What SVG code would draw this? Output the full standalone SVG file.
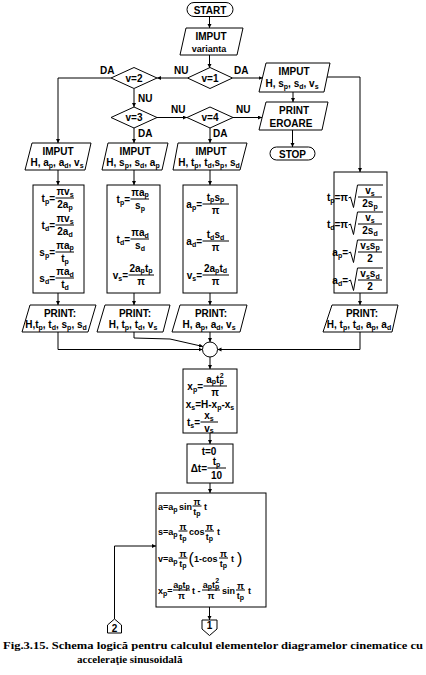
<svg xmlns="http://www.w3.org/2000/svg" width="426" height="675" viewBox="0 0 426 675">
<defs>
<style>
.l{fill:none;stroke:#000;stroke-width:1}
.n{fill:#fff;stroke:#000;stroke-width:1}
.t{font-family:"Liberation Sans",Arial,Helvetica,sans-serif;font-weight:bold;font-size:10px;fill:#000}
.c{text-anchor:middle}
.e{text-anchor:end}
.b{font-size:7px}
.k{font-size:9px}
.p{font-size:16px;font-weight:normal}
.cap{font-family:"Liberation Serif","Times New Roman",serif;font-weight:bold;font-size:11px;fill:#000}
</style>
<marker id="a" markerWidth="5" markerHeight="5" refX="4" refY="2" orient="auto" markerUnits="userSpaceOnUse"><path d="M0,0L4,2L0,4z" fill="#000"/></marker>
</defs>
<rect width="426" height="675" fill="#fff"/>

<g id="connectors">
<path class="l" d="M209.5 16.5V28" marker-end="url(#a)"/>
<path class="l" d="M209.5 55V68" marker-end="url(#a)"/>
<path class="l" d="M187.5 78H157" marker-end="url(#a)"/>
<path class="l" d="M111 78H58V143" marker-end="url(#a)"/>
<path class="l" d="M232.5 78H262.5" marker-end="url(#a)"/>
<path class="l" d="M327 77H360V172" marker-end="url(#a)"/>
<path class="l" d="M293 92V102" marker-end="url(#a)"/>
<path class="l" d="M292.5 130V147" marker-end="url(#a)"/>
<path class="l" d="M134 89V107" marker-end="url(#a)"/>
<path class="l" d="M157 117.5H187" marker-end="url(#a)"/>
<path class="l" d="M233 117.5H262" marker-end="url(#a)"/>
<path class="l" d="M134 128V143" marker-end="url(#a)"/>
<path class="l" d="M210 128V143" marker-end="url(#a)"/>
<path class="l" d="M58 170V185" marker-end="url(#a)"/>
<path class="l" d="M134 170V185" marker-end="url(#a)"/>
<path class="l" d="M210 170V185" marker-end="url(#a)"/>
<path class="l" d="M58 293V305" marker-end="url(#a)"/>
<path class="l" d="M134 293V305" marker-end="url(#a)"/>
<path class="l" d="M210 293V305" marker-end="url(#a)"/>
<path class="l" d="M360 293V305" marker-end="url(#a)"/>
<path class="l" d="M58 332V349.5H202.5" marker-end="url(#a)"/>
<path class="l" d="M134 332V338L170 339L203 346.5" marker-end="url(#a)"/>
<path class="l" d="M210 332V342" marker-end="url(#a)"/>
<path class="l" d="M360 332V349.5H217.5" marker-end="url(#a)"/>
<path class="l" d="M210 357V369" marker-end="url(#a)"/>
<path class="l" d="M210 433V444" marker-end="url(#a)"/>
<path class="l" d="M210 483V493" marker-end="url(#a)"/>
<path class="l" d="M114.5 619V546H156" marker-end="url(#a)"/>
<path class="l" d="M209.5 607V620" marker-end="url(#a)"/>
<text class="t" x="100" y="74">DA</text>
<text class="t" x="174" y="74">NU</text>
<text class="t" x="234" y="74">DA</text>
<text class="t" x="138" y="102">NU</text>
<text class="t" x="171" y="113">NU</text>
<text class="t" x="236" y="113">NU</text>
<text class="t" x="138" y="137">DA</text>
<text class="t" x="213" y="137">DA</text>
</g>

<g id="start">
<rect class="n" x="187" y="2.5" width="46" height="14" rx="7"/>
<text class="t c" x="210" y="13.5">START</text>
</g>
<g id="input-variant">
<path class="n" d="M186 28H243L237 55H180Z"/>
<text class="t c" x="211" y="40">IMPUT</text>
<text class="t c k" x="209" y="51.5">varianta</text>
</g>
<g id="v1">
<path class="n" d="M187.5 78L210 67.5L232.5 78L210 88.5Z"/>
<text class="t c" x="210" y="81.5">v=1</text>
</g>
<g id="v2">
<path class="n" d="M111 78L134 67.5L157 78L134 88.5Z"/>
<text class="t c" x="134" y="81.5">v=2</text>
</g>
<g id="v3">
<path class="n" d="M111 117.5L134 107L157 117.5L134 128Z"/>
<text class="t c" x="134" y="121">v=3</text>
</g>
<g id="v4">
<path class="n" d="M187 117.5L210 107L233 117.5L210 128Z"/>
<text class="t c" x="210" y="121">v=4</text>
</g>
<g id="input-4">
<path class="n" d="M266 63H330L324 92H259Z"/>
<text class="t c" x="294" y="75">IMPUT</text>
<text class="t c" x="292" y="87">H, s<tspan class="b" dy="2">p</tspan><tspan dy="-2">, s</tspan><tspan class="b" dy="2">d</tspan><tspan dy="-2">, v</tspan><tspan class="b" dy="2">s</tspan></text>
</g>
<g id="print-error">
<path class="n" d="M266 102H328L322 130H259Z"/>
<text class="t c" x="294" y="114">PRINT</text>
<text class="t c" x="291" y="126.5">EROARE</text>
</g>
<g id="stop">
<rect class="n" x="270" y="147" width="45" height="13" rx="6.5"/>
<text class="t c" x="292.5" y="157.5">STOP</text>
</g>

<g id="input-1">
<path class="n" d="M32 143H91L85 170H25Z"/>
<text class="t c" x="58" y="155">IMPUT</text>
<text class="t c" x="57" y="166">H, a<tspan class="b" dy="2">p</tspan><tspan dy="-2">, a</tspan><tspan class="b" dy="2">d</tspan><tspan dy="-2">, v</tspan><tspan class="b" dy="2">s</tspan></text>
</g>
<g id="input-2">
<path class="n" d="M108 143H168L162 170H102Z"/>
<text class="t c" x="135" y="155">IMPUT</text>
<text class="t c" x="133" y="166">H, s<tspan class="b" dy="2">p</tspan><tspan dy="-2">, s</tspan><tspan class="b" dy="2">d</tspan><tspan dy="-2">, a</tspan><tspan class="b" dy="2">p</tspan></text>
</g>
<g id="input-3">
<path class="n" d="M178 143H247L240 170H173Z"/>
<text class="t c" x="211" y="155">IMPUT</text>
<text class="t c" x="209" y="166">H, t<tspan class="b" dy="2">p</tspan><tspan dy="-2">, t</tspan><tspan class="b" dy="2">d</tspan><tspan dy="-2">,s</tspan><tspan class="b" dy="2">p</tspan><tspan dy="-2">, s</tspan><tspan class="b" dy="2">d</tspan></text>
</g>

<g id="calc-1">
<rect class="n" x="33" y="185" width="51" height="108"/>
<text class="t e" x="55" y="201.5">t<tspan class="b" dy="2">p</tspan><tspan dy="-2">=</tspan></text>
<path class="l" d="M55.5 198H74"/>
<text class="t c" x="65" y="195">πv<tspan class="b" dy="1.5">s</tspan></text>
<text class="t c" x="65" y="207.5">2a<tspan class="b" dy="2">p</tspan></text>
<text class="t e" x="55" y="228.5">t<tspan class="b" dy="2">d</tspan><tspan dy="-2">=</tspan></text>
<path class="l" d="M55.5 225H74"/>
<text class="t c" x="65" y="222">πv<tspan class="b" dy="1.5">s</tspan></text>
<text class="t c" x="65" y="234.5">2a<tspan class="b" dy="2">d</tspan></text>
<text class="t e" x="55" y="255.5">s<tspan class="b" dy="2">p</tspan><tspan dy="-2">=</tspan></text>
<path class="l" d="M55.5 252H74"/>
<text class="t c" x="65" y="248.5">πa<tspan class="b" dy="1">p</tspan></text>
<text class="t c" x="65" y="261.5">t<tspan class="b" dy="2">p</tspan></text>
<text class="t e" x="55" y="281.5">s<tspan class="b" dy="2">d</tspan><tspan dy="-2">=</tspan></text>
<path class="l" d="M55.5 278H74"/>
<text class="t c" x="65" y="275">πa<tspan class="b" dy="1.5">d</tspan></text>
<text class="t c" x="65" y="287.5">t<tspan class="b" dy="2">d</tspan></text>
</g>
<g id="calc-2">
<rect class="n" x="107" y="185" width="53" height="108"/>
<text class="t e" x="130" y="202.5">t<tspan class="b" dy="2">p</tspan><tspan dy="-2">=</tspan></text>
<path class="l" d="M130.5 199H149"/>
<text class="t c" x="140" y="195.5">πa<tspan class="b" dy="1">p</tspan></text>
<text class="t c" x="140" y="208.5">s<tspan class="b" dy="2">p</tspan></text>
<text class="t e" x="130" y="242.5">t<tspan class="b" dy="2">d</tspan><tspan dy="-2">=</tspan></text>
<path class="l" d="M130.5 239H149"/>
<text class="t c" x="140" y="236">πa<tspan class="b" dy="1.5">d</tspan></text>
<text class="t c" x="140" y="248.5">s<tspan class="b" dy="2">d</tspan></text>
<text class="t e" x="128" y="278.5">v<tspan class="b" dy="2">s</tspan><tspan dy="-2">=</tspan></text>
<path class="l" d="M128.5 275H154"/>
<text class="t c" x="141" y="271.5">2a<tspan class="b" dy="1">p</tspan><tspan dy="-1">t</tspan><tspan class="b" dy="1">p</tspan></text>
<text class="t c" x="141" y="284.5">π</text>
</g>
<g id="calc-3">
<rect class="n" x="183" y="185" width="54" height="108"/>
<text class="t e" x="202" y="207.5">a<tspan class="b" dy="2">p</tspan><tspan dy="-2">=</tspan></text>
<path class="l" d="M202.5 204H229"/>
<text class="t c" x="215.5" y="200.5">t<tspan class="b" dy="1">p</tspan><tspan dy="-1">s</tspan><tspan class="b" dy="1">p</tspan></text>
<text class="t c" x="215.5" y="213.5">π</text>
<text class="t e" x="202" y="244.5">a<tspan class="b" dy="2">d</tspan><tspan dy="-2">=</tspan></text>
<path class="l" d="M202.5 241H229"/>
<text class="t c" x="215.5" y="238">t<tspan class="b" dy="1.5">d</tspan><tspan dy="-1.5">s</tspan><tspan class="b" dy="1.5">d</tspan></text>
<text class="t c" x="215.5" y="250.5">π</text>
<text class="t e" x="202" y="278.5">v<tspan class="b" dy="2">s</tspan><tspan dy="-2">=</tspan></text>
<path class="l" d="M202.5 275H229"/>
<text class="t c" x="215.5" y="271.5">2a<tspan class="b" dy="1">p</tspan><tspan dy="-1">t</tspan><tspan class="b" dy="1">d</tspan></text>
<text class="t c" x="215.5" y="284.5">π</text>
</g>
<g id="calc-4">
<rect class="n" x="334" y="172" width="53" height="121"/>
<text class="t e" x="348" y="200.5">t<tspan class="b" dy="2">p</tspan><tspan dy="-2">=π</tspan></text>
<path class="l" d="M348.5 198l2 -1l3 10.5l4 -22.5H383"/>
<path class="l" d="M358 197H382"/>
<text class="t c" x="370" y="194">v<tspan class="b" dy="1.5">s</tspan></text>
<text class="t c" x="370" y="206.5">2s<tspan class="b" dy="2">p</tspan></text>
<text class="t e" x="348" y="227.5">t<tspan class="b" dy="2">d</tspan><tspan dy="-2">=π</tspan></text>
<path class="l" d="M348.5 225l2 -1l3 10.5l4 -22.5H383"/>
<path class="l" d="M358 224H382"/>
<text class="t c" x="370" y="221">v<tspan class="b" dy="1.5">s</tspan></text>
<text class="t c" x="370" y="233.5">2s<tspan class="b" dy="2">d</tspan></text>
<text class="t e" x="348" y="255.5">a<tspan class="b" dy="2">p</tspan><tspan dy="-2">=</tspan></text>
<path class="l" d="M348.5 253l2 -1l3 10.5l4 -22.5H383"/>
<path class="l" d="M358 252H382"/>
<text class="t c" x="370" y="248.5">v<tspan class="b" dy="1">s</tspan><tspan dy="-1">s</tspan><tspan class="b" dy="1">p</tspan></text>
<text class="t c" x="370" y="261.5">2</text>
<text class="t e" x="348" y="283.5">a<tspan class="b" dy="2">d</tspan><tspan dy="-2">=</tspan></text>
<path class="l" d="M348.5 281l2 -1l3 10.5l4 -22.5H383"/>
<path class="l" d="M358 280H382"/>
<text class="t c" x="370" y="277">v<tspan class="b" dy="1.5">s</tspan><tspan dy="-1.5">s</tspan><tspan class="b" dy="1.5">d</tspan></text>
<text class="t c" x="370" y="289.5">2</text>
</g>

<g id="print-1">
<path class="n" d="M30 305H96L88 332H22Z"/>
<text class="t c" x="60" y="317">PRINT:</text>
<text class="t c" x="56" y="328">H,t<tspan class="b" dy="2">p</tspan><tspan dy="-2">, t</tspan><tspan class="b" dy="2">d</tspan><tspan dy="-2">, s</tspan><tspan class="b" dy="2">p</tspan><tspan dy="-2">, s</tspan><tspan class="b" dy="2">d</tspan></text>
</g>
<g id="print-2">
<path class="n" d="M105 305H170L163 332H97Z"/>
<text class="t c" x="135" y="317">PRINT:</text>
<text class="t c" x="133" y="328">H, t<tspan class="b" dy="2">p</tspan><tspan dy="-2">, t</tspan><tspan class="b" dy="2">d</tspan><tspan dy="-2">, v</tspan><tspan class="b" dy="2">s</tspan></text>
</g>
<g id="print-3">
<path class="n" d="M180 305H247L240 332H172Z"/>
<text class="t c" x="211" y="317">PRINT:</text>
<text class="t c" x="209" y="328">H, a<tspan class="b" dy="2">p</tspan><tspan dy="-2">, a</tspan><tspan class="b" dy="2">d</tspan><tspan dy="-2">, v</tspan><tspan class="b" dy="2">s</tspan></text>
</g>
<g id="print-4">
<path class="n" d="M332 305H398L392 332H323Z"/>
<text class="t c" x="362" y="317">PRINT:</text>
<text class="t c" x="359" y="328">H, t<tspan class="b" dy="2">p</tspan><tspan dy="-2">, t</tspan><tspan class="b" dy="2">d</tspan><tspan dy="-2">, a</tspan><tspan class="b" dy="2">p</tspan><tspan dy="-2">, a</tspan><tspan class="b" dy="2">d</tspan></text>
</g>
<g id="join">
<circle class="n" cx="210" cy="349.5" r="7.5"/>
</g>

<g id="calc-x">
<rect class="n" x="183" y="369" width="54" height="64"/>
<text class="t e" x="203" y="389.5">x<tspan class="b" dy="2">p</tspan><tspan dy="-2">=</tspan></text>
<path class="l" d="M203.5 386H227"/>
<text class="t c" x="215" y="382.5">a<tspan class="b" dy="1">p</tspan><tspan dy="-1">t</tspan><tspan class="b" dy="1">p</tspan><tspan class="b" dx="-4" dy="-6">2</tspan></text>
<text class="t c" x="215" y="395.5">π</text>
<text class="t c" x="210" y="408">x<tspan class="b" dy="2">s</tspan><tspan dy="-2">=H-x</tspan><tspan class="b" dy="2">p</tspan><tspan dy="-2">-x</tspan><tspan class="b" dy="2">s</tspan></text>
<text class="t e" x="200" y="425.5">t<tspan class="b" dy="2">s</tspan><tspan dy="-2">=</tspan></text>
<path class="l" d="M200.5 422H218"/>
<text class="t c" x="209" y="419">x<tspan class="b" dy="1.5">s</tspan></text>
<text class="t c" x="209" y="431.5">v<tspan class="b" dy="1.5">s</tspan></text>
</g>
<g id="init">
<rect class="n" x="187" y="444" width="46" height="39"/>
<text class="t c" x="209" y="455">t=0</text>
<text class="t e" x="207" y="471.5">Δt=</text>
<path class="l" d="M207.5 468H226"/>
<text class="t c" x="216.5" y="465">t<tspan class="b" dy="1.5">p</tspan></text>
<text class="t c" x="216.5" y="478.5">10</text>
</g>
<g id="motion">
<rect class="n" x="156" y="493" width="110" height="114"/>
<text class="t k" x="158" y="510">a=a<tspan class="b" dy="2">p</tspan></text>
<text class="t k" x="179" y="510">sin</text>
<path class="l" d="M192.5 506H201.5"/>
<text class="t c k" x="197" y="504.5">π</text>
<text class="t c k" x="197" y="514.5">t<tspan class="b" dy="1.5">p</tspan></text>
<text class="t k" x="204" y="510">t</text>

<text class="t k" x="158" y="535">s=a<tspan class="b" dy="2">p</tspan></text>
<path class="l" d="M178.5 531H187.5"/>
<text class="t c k" x="183" y="529.5">π</text>
<text class="t c k" x="183" y="539.5">t<tspan class="b" dy="1.5">p</tspan></text>
<text class="t k" x="189" y="535">cos</text>
<path class="l" d="M205 531H214"/>
<text class="t c k" x="209.5" y="529.5">π</text>
<text class="t c k" x="209.5" y="539.5">t<tspan class="b" dy="1.5">p</tspan></text>
<text class="t k" x="217" y="535">t</text>

<text class="t k" x="158" y="562">v=a<tspan class="b" dy="2">p</tspan></text>
<path class="l" d="M178.5 558H187.5"/>
<text class="t c k" x="183" y="556.5">π</text>
<text class="t c k" x="183" y="566.5">t<tspan class="b" dy="1.5">p</tspan></text>
<text class="t p" x="188.5" y="564">(</text>
<text class="t k" x="194" y="562">1-cos</text>
<path class="l" d="M219 558H228"/>
<text class="t c k" x="223.5" y="556.5">π</text>
<text class="t c k" x="223.5" y="566.5">t<tspan class="b" dy="1.5">p</tspan></text>
<text class="t k" x="231" y="562">t</text>
<text class="t p" x="237" y="564">)</text>

<text class="t k" x="158" y="594">x<tspan class="b" dy="2">p</tspan><tspan dy="-2">=</tspan></text>
<path class="l" d="M173 590H190"/>
<text class="t c k" x="181.5" y="587.5">a<tspan class="b" dy="1">p</tspan><tspan dy="-1">t</tspan><tspan class="b" dy="1">p</tspan></text>
<text class="t c k" x="181.5" y="598.5">π</text>
<text class="t k" x="192" y="594">t -</text>
<path class="l" d="M202 590H220"/>
<text class="t c k" x="211" y="587.5">a<tspan class="b" dy="1">p</tspan><tspan dy="-1">t</tspan><tspan class="b" dy="1">p</tspan><tspan class="b" dx="-4" dy="-6">2</tspan></text>
<text class="t c k" x="211" y="598.5">π</text>
<text class="t k" x="222" y="594">sin</text>
<path class="l" d="M236 590H245"/>
<text class="t c k" x="240.5" y="588.5">π</text>
<text class="t c k" x="240.5" y="598.5">t<tspan class="b" dy="1.5">p</tspan></text>
<text class="t k" x="248" y="594">t</text>
</g>

<g id="connector-2">
<path class="n" d="M107.5 625L114.5 619L121.5 625V633H107.5Z"/>
<text class="t c" x="114.5" y="631.5">2</text>
</g>
<g id="connector-1">
<path class="n" d="M202 620H217V629L209.5 635.5L202 629Z"/>
<text class="t c" x="209.5" y="629">1</text>
</g>

<g id="caption">
<text class="cap" x="3" y="649" textLength="420" lengthAdjust="spacingAndGlyphs">Fig.3.15. Schema logică pentru calculul elementelor diagramelor cinematice cu</text>
<text class="cap" x="77" y="663">acceleraţie sinusoidală</text>
</g>
</svg>
